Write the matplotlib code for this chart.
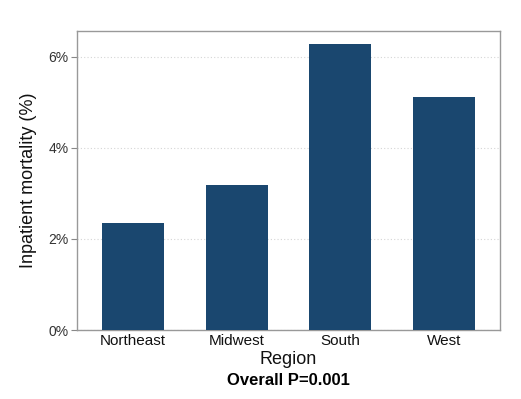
import matplotlib
matplotlib.use("Agg")
import matplotlib.pyplot as plt
from matplotlib.ticker import FuncFormatter

regions = ["Northeast", "Midwest", "South", "West"]
mortality = [2.35, 3.19, 6.29, 5.12]
yticks = [0, 2, 4, 6]

plt.rcParams['font.family'] = ['Liberation Sans', 'DejaVu Sans']

fig = plt.figure(figsize=(5.21, 3.99), dpi=100)
ax = fig.add_axes([0.1478, 0.1729, 0.8119, 0.7494])

x = range(len(regions))
ax.bar(x, mortality, width=0.6, color="#1a476f", zorder=3)

ax.set_xlim(-0.54, 3.54)
ax.set_ylim(0, 6.57)
ax.set_yticks(yticks)
ax.yaxis.set_major_formatter(FuncFormatter(lambda v, p: f"{v:g}%"))
ax.set_xticks(list(x))
ax.set_xticklabels(regions)
ax.tick_params(axis="x", length=0, labelsize=11, pad=3, colors="#111111")
ax.tick_params(axis="y", length=4, width=0.8, color="#888888", labelsize=10, pad=2, colors="#333333")
ax.yaxis.grid(True, linestyle=(0, (1, 2)), color="#d5d5d5", linewidth=0.8, zorder=0)
for s in ax.spines.values():
    s.set_color("#999999")
    s.set_linewidth(1.0)

ax.set_ylabel("Inpatient mortality (%)", fontsize=13, color="#111111", labelpad=8)
ax.set_xlabel("Region", fontsize=13, color="#111111", labelpad=2)
ax.text(0.5, -0.143, "Overall P=0.001", transform=ax.transAxes, ha="center", va="top",
        fontsize=12, fontweight="bold")

fig.savefig("out.png", dpi=100)
